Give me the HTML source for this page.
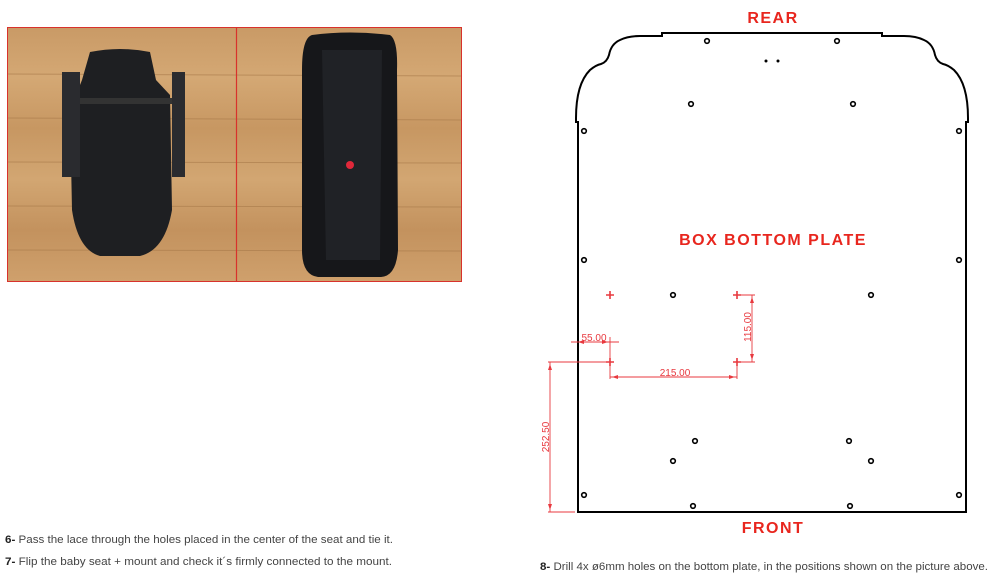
<!DOCTYPE html>
<html><head><meta charset="utf-8"><style>
html,body{margin:0;padding:0;background:#fff;width:1000px;height:585px;overflow:hidden}
svg{display:block}
</style></head><body>
<svg width="1000" height="585" viewBox="0 0 1000 585" xmlns="http://www.w3.org/2000/svg">
<defs>
<linearGradient id="wood" x1="0" y1="0" x2="0" y2="1">
<stop offset="0" stop-color="#c99a66"/><stop offset="0.2" stop-color="#d4a874"/><stop offset="0.4" stop-color="#c79762"/><stop offset="0.6" stop-color="#d2a672"/><stop offset="0.8" stop-color="#c3925e"/><stop offset="1" stop-color="#cfa06c"/>
</linearGradient>
</defs>
<rect x="8" y="27" width="457" height="254" fill="url(#wood)"/>
<rect x="461" y="27" width="4" height="254" fill="#fff"/>
<g stroke="#a87a4a" stroke-width="1" opacity="0.6">
<line x1="8" y1="74" x2="461" y2="76"/><line x1="8" y1="118" x2="461" y2="120"/><line x1="8" y1="162" x2="461" y2="163"/><line x1="8" y1="206" x2="461" y2="207"/><line x1="8" y1="250" x2="461" y2="251"/>
</g>
<path d="M90 52 Q120 46 150 52 L156 80 L170 95 L172 210 Q165 250 140 256 L100 256 Q78 250 72 210 L70 110 L82 80 Z" fill="#1e1f22"/>
<rect x="62" y="72" width="18" height="105" fill="#2a2b2f"/>
<rect x="172" y="72" width="13" height="105" fill="#2a2b2f"/>
<rect x="80" y="98" width="92" height="6" fill="#333"/>
<path d="M312 35 Q350 30 390 35 Q398 40 397 70 L398 250 Q396 277 380 277 L318 277 Q302 275 302 250 L302 70 Q302 38 312 35 Z" fill="#16171a"/>
<path d="M322 50 L382 50 L380 260 L326 260 Z" fill="#202226"/>
<circle cx="350" cy="165" r="4" fill="#e0283a"/>
<rect x="7.5" y="27.5" width="454" height="254" fill="none" stroke="#d8322c" stroke-width="1"/>
<line x1="236.5" y1="27" x2="236.5" y2="282" stroke="#d8322c" stroke-width="1.2"/>

<path d="M578 512 L578 122 L576 122 L576 118 Q576 84 590 70 Q596 65 601 64 Q607 62 609 55 Q611 44 620 40 Q628 36 640 36 L662 36 L662 33 L882 33 L882 36 L904 36 Q916 36 924 40 Q933 44 935 55 Q937 62 943 64 Q948 65 954 70 Q968 84 968 118 L968 122 L966 122 L966 512 Z" fill="none" stroke="#000" stroke-width="2"/>
<g fill="#fff" stroke="#000" stroke-width="1.6">
<circle cx="707" cy="41" r="2.3"/><circle cx="837" cy="41" r="2.3"/><circle cx="691" cy="104" r="2.3"/><circle cx="853" cy="104" r="2.3"/>
<circle cx="584" cy="131" r="2.3"/><circle cx="959" cy="131" r="2.3"/><circle cx="584" cy="260" r="2.3"/><circle cx="959" cy="260" r="2.3"/>
<circle cx="673" cy="295" r="2.3"/><circle cx="871" cy="295" r="2.3"/><circle cx="695" cy="441" r="2.3"/><circle cx="849" cy="441" r="2.3"/>
<circle cx="673" cy="461" r="2.3"/><circle cx="871" cy="461" r="2.3"/><circle cx="584" cy="495" r="2.3"/><circle cx="959" cy="495" r="2.3"/>
<circle cx="693" cy="506" r="2.3"/><circle cx="850" cy="506" r="2.3"/>
</g>
<circle cx="766" cy="61" r="1.5" fill="#000"/><circle cx="778" cy="61" r="1.5" fill="#000"/>

<g stroke="#e8393f" stroke-width="0.9" fill="none">
<path d="M606 295h8M610 291v8M733 295h8M737 291v8M606 362h8M610 358v8M733 362h8M737 358v8" stroke-width="1.6"/>
<line x1="571" y1="342" x2="619" y2="342"/>
<line x1="610" y1="337" x2="610" y2="379"/>
<line x1="610" y1="377" x2="737" y2="377"/>
<line x1="737" y1="362" x2="737" y2="379"/>
<line x1="737" y1="295" x2="755" y2="295"/>
<line x1="737" y1="362" x2="755" y2="362"/>
<line x1="752" y1="295" x2="752" y2="362"/>
<line x1="548" y1="362" x2="610" y2="362"/>
<line x1="548" y1="512" x2="575" y2="512"/>
<line x1="550" y1="362" x2="550" y2="512"/>
</g>
<g fill="#e8393f">
<path d="M578 342l6-2v4z M608 342l-6-2v4z M612 377l6-2v4z M735 377l-6-2v4z M752 297l-2 6h4z M752 360l-2-6h4z M550 364l-2 6h4z M550 510l-2-6h4z"/>
</g>
<g font-family="Liberation Sans, sans-serif" font-size="10" fill="#e8393f" text-anchor="middle">
<text x="594" y="341">55.00</text>
<text x="675" y="376">215.00</text>
<text transform="translate(751,327) rotate(-90)">115.00</text>
<text transform="translate(549,437) rotate(-90)">252.50</text>
</g>
<g font-family="Liberation Sans, sans-serif" font-size="16" font-weight="bold" fill="#e8261e" text-anchor="middle" letter-spacing="1.5">
<text x="773" y="23">REAR</text>
<text x="773" y="245">BOX BOTTOM PLATE</text>
<text x="773" y="533">FRONT</text>
</g>
<g font-family="Liberation Sans, sans-serif" font-size="11" fill="#444">
<text x="5" y="543" textLength="388" lengthAdjust="spacingAndGlyphs"><tspan font-weight="bold" fill="#222">6-</tspan> Pass the lace through the holes placed in the center of the seat and tie it.</text>
<text x="5" y="565" textLength="387" lengthAdjust="spacingAndGlyphs"><tspan font-weight="bold" fill="#222">7-</tspan> Flip the baby seat + mount and check it´s firmly connected to the mount.</text>
<text x="540" y="570" textLength="448" lengthAdjust="spacingAndGlyphs"><tspan font-weight="bold" fill="#222">8-</tspan> Drill 4x ø6mm holes on the bottom plate, in the positions shown on the picture above.</text>
</g>
</svg>
</body></html>
